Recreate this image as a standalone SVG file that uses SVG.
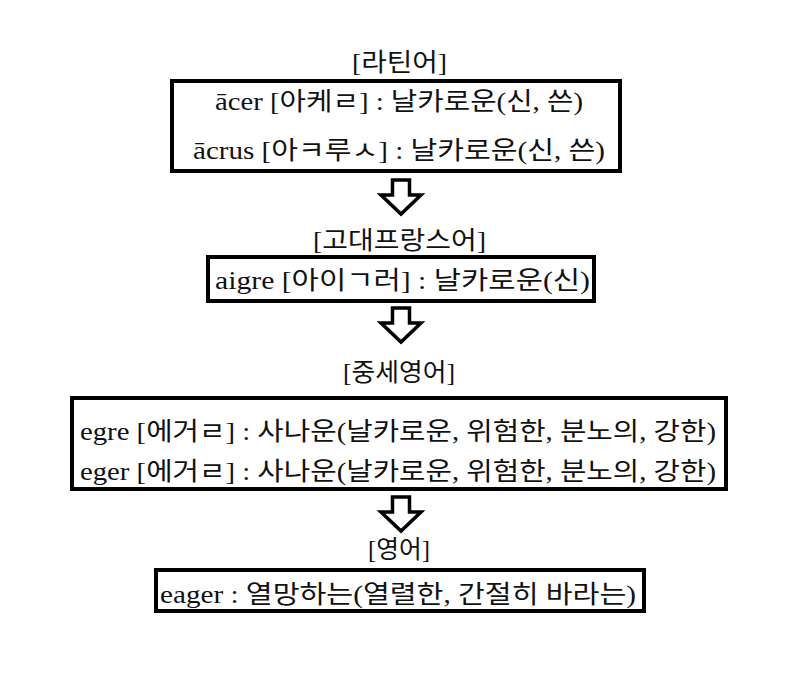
<svg xmlns="http://www.w3.org/2000/svg" width="792" height="673" viewBox="0 0 792 673">
<style>
.t{font-family:"Liberation Serif","Noto Sans CJK KR",serif;font-size:25px;fill:#111}
.box{fill:#fff;stroke:#000;stroke-width:4}
.arr{fill:#fff;stroke:#000;stroke-width:3.5;stroke-linejoin:miter}
</style>
<defs>
<path id="arrow" d="M-8.5 0 H8.5 V15 H20 L0 34 L-20 15 H-8.5 Z"/>
</defs>
<rect width="792" height="673" fill="#fff"/>
<g id="latin">
<text class="t" x="352" y="71" textLength="95" lengthAdjust="spacingAndGlyphs">[라틴어]</text>
<rect class="box" x="172" y="81" width="448" height="90"/>
<text class="t" x="215" y="110" textLength="368" lengthAdjust="spacingAndGlyphs">ācer [아케ㄹ] : 날카로운(신, 쓴)</text>
<text class="t" x="193" y="159" textLength="412" lengthAdjust="spacingAndGlyphs">ācrus [아ㅋ루ㅅ] : 날카로운(신, 쓴)</text>
</g>
<g id="oldfrench">
<text class="t" x="313" y="249" textLength="173" lengthAdjust="spacingAndGlyphs">[고대프랑스어]</text>
<rect class="box" x="208" y="257" width="386" height="44"/>
<text class="t" x="215" y="289" textLength="375" lengthAdjust="spacingAndGlyphs">aigre [아이ㄱ러] : 날카로운(신)</text>
</g>
<g id="middleenglish">
<text class="t" x="343" y="381" textLength="112" lengthAdjust="spacingAndGlyphs">[중세영어]</text>
<rect class="box" x="72" y="398" width="654" height="91"/>
<text class="t" x="80" y="440" textLength="636" lengthAdjust="spacingAndGlyphs">egre [에거ㄹ] : 사나운(날카로운, 위험한, 분노의, 강한)</text>
<text class="t" x="80" y="480" textLength="636" lengthAdjust="spacingAndGlyphs">eger [에거ㄹ] : 사나운(날카로운, 위험한, 분노의, 강한)</text>
</g>
<g id="english">
<text class="t" x="368" y="558" textLength="62" lengthAdjust="spacingAndGlyphs">[영어]</text>
<rect class="box" x="156" y="570" width="488" height="41"/>
<text class="t" x="160" y="603" textLength="476" lengthAdjust="spacingAndGlyphs">eager : 열망하는(열렬한, 간절히 바라는)</text>
</g>
<g id="connectors">
<use href="#arrow" class="arr" x="401" y="180"/>
<use href="#arrow" class="arr" x="401" y="308"/>
<use href="#arrow" class="arr" x="401" y="497"/>
</g>
</svg>
